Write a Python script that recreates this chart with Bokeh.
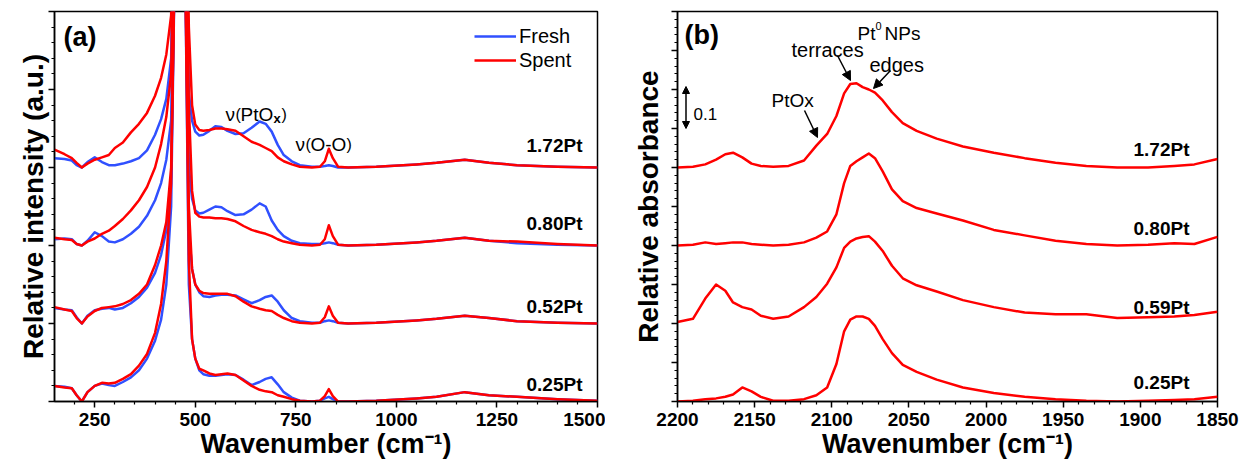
from bokeh.plotting import figure
from bokeh.layouts import row
from bokeh.models import (FixedTicker, Label, Arrow, NormalHead, Range1d,
                          Legend, LegendItem, CustomJSTickFormatter)
from bokeh.embed import file_html
from bokeh.resources import INLINE

# ---------------- panel (a): Raman spectra (relative to each baseline) ----------------
RAMAN_X = [150, 175, 193, 205, 218, 232, 250, 268, 285, 300, 320, 340, 360, 380, 400,
           415, 428, 440, 450, 462, 474, 484, 492, 500, 510, 520, 535, 550, 565, 580,
           600, 620, 640, 660, 675, 690, 705, 720, 740, 760, 790, 810, 822, 832, 842,
           855, 880, 950, 1050, 1100, 1170, 1230, 1300, 1400, 1500]
RAMAN_SAMPLES = ["1.72Pt", "0.80Pt", "0.52Pt", "0.25Pt"]
RAMAN_OFFSETS = [3, 2, 1, 0]

FRESH_172 = [0.12, 0.11, 0.09, 0.03, 0.00, 0.07, 0.13, 0.07, 0.03, 0.03, 0.05, 0.08, 0.12, 0.22, 0.42,
             0.62, 0.88, 1.40, 5.0, 12.0, 5.0, 0.95, 0.60, 0.46, 0.41, 0.42, 0.47, 0.53, 0.52, 0.47,
             0.43, 0.44, 0.51, 0.59, 0.56, 0.46, 0.29, 0.16, 0.08, 0.03, 0.01, 0.01, 0.02, 0.03, 0.02,
             0.00, 0.00, 0.01, 0.04, 0.06, 0.10, 0.06, 0.03, 0.01, 0.00]
SPENT_172 = [0.23, 0.17, 0.12, 0.06, 0.00, 0.05, 0.10, 0.13, 0.16, 0.25, 0.32, 0.45, 0.56, 0.70, 0.92,
             1.15, 1.45, 1.95, 5.0, 12.0, 5.0, 1.80, 0.80, 0.55, 0.48, 0.47, 0.48, 0.50, 0.50, 0.49,
             0.47, 0.40, 0.33, 0.29, 0.25, 0.21, 0.13, 0.08, 0.04, 0.01, 0.00, 0.01, 0.08, 0.24, 0.12,
             0.01, 0.00, 0.01, 0.04, 0.06, 0.10, 0.06, 0.03, 0.01, 0.00]
FRESH_080 = [0.08, 0.09, 0.08, 0.02, 0.00, 0.06, 0.17, 0.12, 0.05, 0.04, 0.08, 0.15, 0.24, 0.38, 0.58,
             0.80, 1.10, 1.60, 5.0, 12.0, 5.0, 1.00, 0.60, 0.45, 0.41, 0.42, 0.46, 0.50, 0.49, 0.44,
             0.39, 0.40, 0.46, 0.54, 0.50, 0.32, 0.20, 0.12, 0.06, 0.03, 0.02, 0.02, 0.03, 0.04, 0.03,
             0.01, 0.00, 0.01, 0.04, 0.06, 0.10, 0.06, 0.03, 0.01, 0.00]
SPENT_080 = [0.10, 0.08, 0.07, 0.02, 0.00, 0.05, 0.09, 0.15, 0.19, 0.25, 0.34, 0.45, 0.58, 0.75, 1.00,
             1.30, 1.65, 2.20, 5.0, 12.0, 5.0, 1.80, 0.70, 0.42, 0.37, 0.36, 0.36, 0.35, 0.35, 0.34,
             0.31, 0.25, 0.20, 0.17, 0.15, 0.12, 0.08, 0.05, 0.03, 0.01, 0.00, 0.01, 0.08, 0.26, 0.12,
             0.01, 0.00, 0.01, 0.04, 0.06, 0.10, 0.06, 0.05, 0.02, 0.00]
FRESH_052 = [0.20, 0.18, 0.17, 0.08, 0.00, 0.10, 0.17, 0.19, 0.20, 0.18, 0.20, 0.26, 0.34, 0.46, 0.65,
             0.88, 1.20, 1.90, 5.0, 12.0, 5.0, 1.20, 0.70, 0.50, 0.40, 0.35, 0.34, 0.36, 0.37, 0.37,
             0.36, 0.31, 0.26, 0.30, 0.34, 0.36, 0.28, 0.17, 0.07, 0.03, 0.01, 0.01, 0.03, 0.04, 0.03,
             0.01, 0.00, 0.01, 0.04, 0.06, 0.10, 0.07, 0.03, 0.01, 0.00]
SPENT_052 = [0.21, 0.18, 0.16, 0.07, 0.00, 0.09, 0.16, 0.20, 0.21, 0.22, 0.25, 0.30, 0.38, 0.50, 0.75,
             1.00, 1.30, 2.00, 5.0, 12.0, 5.0, 1.50, 0.70, 0.50, 0.42, 0.39, 0.38, 0.38, 0.38, 0.38,
             0.35, 0.28, 0.22, 0.19, 0.17, 0.16, 0.11, 0.07, 0.03, 0.01, 0.00, 0.01, 0.08, 0.22, 0.10,
             0.01, 0.00, 0.01, 0.04, 0.06, 0.10, 0.07, 0.03, 0.01, 0.00]
FRESH_025 = [0.20, 0.19, 0.17, 0.08, 0.00, 0.12, 0.20, 0.23, 0.21, 0.20, 0.25, 0.31, 0.40, 0.55, 0.78,
             1.05, 1.50, 2.50, 6.0, 12.0, 6.0, 1.50, 0.80, 0.55, 0.40, 0.35, 0.33, 0.33, 0.34, 0.35,
             0.34, 0.28, 0.21, 0.25, 0.29, 0.31, 0.22, 0.12, 0.05, 0.01, 0.00, 0.01, 0.04, 0.06, 0.03,
             0.00, 0.00, 0.01, 0.04, 0.06, 0.12, 0.08, 0.06, 0.03, 0.01]
SPENT_025 = [0.20, 0.18, 0.17, 0.08, 0.00, 0.12, 0.20, 0.24, 0.23, 0.24, 0.29, 0.35, 0.46, 0.61, 0.88,
             1.25, 1.80, 2.80, 6.0, 12.0, 6.0, 1.80, 0.80, 0.55, 0.42, 0.40, 0.36, 0.34, 0.35, 0.36,
             0.34, 0.27, 0.20, 0.15, 0.13, 0.12, 0.08, 0.06, 0.03, 0.01, 0.00, 0.01, 0.07, 0.16, 0.07,
             0.00, 0.00, 0.01, 0.04, 0.06, 0.12, 0.08, 0.06, 0.03, 0.01]
FRESH = [FRESH_172, FRESH_080, FRESH_052, FRESH_025]
SPENT = [SPENT_172, SPENT_080, SPENT_052, SPENT_025]

# ---------------- panel (b): CO-DRIFTS spectra (relative to each baseline) ----------------
IR_X = [2200, 2190, 2182, 2175, 2169, 2164, 2158, 2152, 2146, 2138, 2128, 2118, 2110, 2103, 2097,
        2092, 2088, 2084, 2080, 2076, 2072, 2067, 2061, 2054, 2045, 2032, 2015, 1995, 1975, 1955,
        1935, 1915, 1895, 1878, 1865, 1850]
IR_SAMPLES = ["1.72Pt", "0.80Pt", "0.59Pt", "0.25Pt"]
IR_OFFSETS = [3, 2, 1, 0]
IR_172 = [0.00, 0.01, 0.04, 0.10, 0.17, 0.19, 0.13, 0.05, 0.02, 0.01, 0.02, 0.09, 0.28, 0.43, 0.66,
          0.95, 1.07, 1.08, 1.03, 1.00, 0.96, 0.86, 0.71, 0.57, 0.47, 0.37, 0.27, 0.19, 0.12, 0.06,
          0.02, 0.00, 0.00, 0.02, 0.04, 0.11]
IR_080 = [0.00, 0.01, 0.04, 0.02, 0.03, 0.04, 0.04, 0.02, 0.01, 0.00, 0.01, 0.04, 0.10, 0.18, 0.40,
          0.80, 1.02, 1.08, 1.13, 1.18, 1.12, 0.95, 0.72, 0.57, 0.48, 0.41, 0.32, 0.20, 0.13, 0.06,
          0.02, 0.00, 0.01, 0.03, 0.02, 0.11]
IR_059 = [0.02, 0.06, 0.32, 0.50, 0.42, 0.27, 0.21, 0.18, 0.10, 0.06, 0.09, 0.21, 0.34, 0.51, 0.72,
          0.97, 1.05, 1.09, 1.11, 1.12, 1.05, 0.93, 0.74, 0.58, 0.49, 0.41, 0.30, 0.21, 0.14, 0.12,
          0.12, 0.07, 0.08, 0.09, 0.11, 0.15]
IR_025 = [0.00, 0.01, 0.03, 0.04, 0.06, 0.09, 0.18, 0.13, 0.06, 0.01, 0.01, 0.03, 0.08, 0.18, 0.48,
          0.90, 1.05, 1.09, 1.09, 1.06, 0.97, 0.80, 0.62, 0.47, 0.38, 0.28, 0.18, 0.11, 0.06, 0.03,
          0.01, 0.00, 0.01, 0.02, 0.03, 0.06]
IR = [IR_172, IR_080, IR_059, IR_025]

A_XTICKS = [250, 500, 750, 1000, 1250, 1500]
B_XTICKS = [2200, 2150, 2100, 2050, 2000, 1950, 1900, 1850]

FONT = "Liberation Sans"
BLUE = "#3050ff"
RED = "#ff0000"

# ---------------- geometry helpers (page px -> data) for in-frame annotations ----------------
A_L, A_W, B_L, B_W, F_T, F_H = 54, 543, 677, 540, 11, 390


def px_a(px):
    return 150 + (px - A_L) * 1350 / A_W


def px_b(px):
    return 2200 - (px - B_L) * 350 / B_W


def py(pyy):
    return (F_T + F_H - pyy) * 5 / F_H


def lab(p, x, y, text, size, bold=False, align="left", baseline="alphabetic"):
    p.add_layout(Label(x=x, y=y, text=text, text_font=FONT, text_font_size=f"{size}px",
                       text_font_style="bold" if bold else "normal", text_align=align,
                       text_baseline=baseline, text_color="black"))


def style(p, xticks, xminor, yticks, yminor, ytitle, ystandoff):
    p.grid.visible = False
    p.outline_line_color = "black"
    p.outline_line_width = 1.5
    p.outline_line_alpha = 1.0
    xa = p.xaxis[0]
    ya = p.yaxis[0]
    xa.ticker = FixedTicker(ticks=xticks, minor_ticks=xminor)
    ya.ticker = FixedTicker(ticks=yticks, minor_ticks=yminor)
    ya.formatter = CustomJSTickFormatter(code="return ''")
    ya.major_label_standoff = 0
    xa.major_label_standoff = 5
    xa.major_label_text_font = FONT
    xa.major_label_text_font_style = "bold"
    xa.major_label_text_font_size = "19px"
    xa.major_label_text_color = "black"
    xa.axis_label = "Wavenumber (cm\u207b\u00b9)"
    xa.axis_label_standoff = 0
    xa.axis_label_text_font_size = "27px"
    ya.axis_label = ytitle
    ya.axis_label_standoff = ystandoff
    ya.axis_label_text_font_size = "28px"
    for ax in (xa, ya):
        ax.axis_label_text_font = FONT
        ax.axis_label_text_font_style = "bold"
        ax.axis_label_text_color = "black"
        ax.axis_line_width = 1.5
        ax.axis_line_color = "black"
        ax.major_tick_in = 0
        ax.major_tick_out = 6
        ax.minor_tick_in = 0
        ax.minor_tick_out = 3
        ax.major_tick_line_width = 1.5
        ax.minor_tick_line_width = 1.2
        ax.major_tick_line_color = "black"
        ax.minor_tick_line_color = "black"


# ---------------- panel (a) ----------------
pa = figure(frame_width=A_W, frame_height=F_H, x_range=Range1d(150, 1500), y_range=Range1d(0, 5),
            output_backend="svg", toolbar_location=None,
            min_border_left=54, min_border_right=8, min_border_top=11, min_border_bottom=50)
style(pa, A_XTICKS, [v for v in range(200, 1500, 50) if v % 250],
      [0, 1, 2, 3, 4, 5], [i * 0.2 for i in range(26) if i % 5],
      "Relative intensity (a.u.)", 0)

fresh_r = spent_r = None
for off, f in zip(RAMAN_OFFSETS, FRESH):
    rf = pa.line(RAMAN_X, [v + off for v in f], line_color=BLUE, line_width=2.5, line_join="round")
    fresh_r = fresh_r or rf
for off, s in zip(RAMAN_OFFSETS, SPENT):
    rs = pa.line(RAMAN_X, [v + off for v in s], line_color=RED, line_width=2.5, line_join="round")
    spent_r = spent_r or rs

leg = Legend(items=[LegendItem(label="Fresh", renderers=[fresh_r]),
                    LegendItem(label="Spent", renderers=[spent_r])],
             location=(420, 329), orientation="vertical", background_fill_alpha=0,
             border_line_alpha=0, glyph_width=42, glyph_height=24, label_height=24,
             label_standoff=3, spacing=0, padding=0, margin=0,
             label_text_font=FONT, label_text_font_size="20px", label_text_color="black")
pa.add_layout(leg)

lab(pa, px_a(63), py(36), "(a)", 27, True, baseline="middle")
# nu(PtOx)
lab(pa, px_a(225), py(114), "ν", 19)
lab(pa, px_a(235), py(114), "(", 16)
lab(pa, px_a(240), py(114), "PtO", 19)
lab(pa, px_a(273), py(118), "x", 13, True)
lab(pa, px_a(281), py(114), ")", 16)
# nu(O-O)
lab(pa, px_a(295), py(144), "ν", 19)
lab(pa, px_a(305), py(144), "(", 16)
lab(pa, px_a(310), py(144), "O-O", 19)
lab(pa, px_a(346), py(144), ")", 16)
for name, yy in zip(RAMAN_SAMPLES, [145, 223, 306, 384]):
    lab(pa, px_a(582), py(yy), name, 19, True, align="right", baseline="middle")

# ---------------- panel (b) ----------------
pb = figure(frame_width=B_W, frame_height=F_H, x_range=Range1d(2200, 1850), y_range=Range1d(0, 5),
            output_backend="svg", toolbar_location=None,
            min_border_left=72, min_border_right=25, min_border_top=11, min_border_bottom=50)
style(pb, B_XTICKS, [v for v in range(1860, 2200, 10) if v % 50],
      [i * 0.5 for i in range(11)], [i * 0.1 for i in range(51) if i % 5],
      "Relative absorbance", 8)

for off, s in zip(IR_OFFSETS, IR):
    pb.line(IR_X, [v + off for v in s], line_color=RED, line_width=2.5, line_join="round")

lab(pb, px_b(684), py(34), "(b)", 27, True, baseline="middle")
lab(pb, px_b(857), py(33), "Pt", 19)
lab(pb, px_b(875), py(25), "0", 11)
lab(pb, px_b(884), py(33), "NPs", 19)
lab(pb, px_b(791), py(49), "terraces", 20)
lab(pb, px_b(869), py(64), "edges", 20)
lab(pb, px_b(771), py(100), "PtOx", 19)
lab(pb, px_b(693), py(113), "0.1", 17)
for name, yy in zip(IR_SAMPLES, [149, 228, 307, 382]):
    lab(pb, px_b(1189), py(yy), name, 19, True, align="right", baseline="middle")


def head(sz):
    return NormalHead(size=sz, fill_color="black", line_color="black", line_width=1)


for (x0, y0, x1, y1) in [(837, 55, 850, 80), (890, 70, 873, 88), (804, 110, 817, 137)]:
    pb.add_layout(Arrow(end=head(9), x_start=px_b(x0), y_start=py(y0), x_end=px_b(x1),
                        y_end=py(y1), line_width=1.5, line_color="black"))
pb.add_layout(Arrow(start=head(7), end=head(7), x_start=px_b(685.5), y_start=py(86),
                    x_end=px_b(685.5), y_end=py(128), line_width=1.5, line_color="black"))

layout = row(pa, pb)
open("out.html", "w").write(file_html(layout, INLINE))
